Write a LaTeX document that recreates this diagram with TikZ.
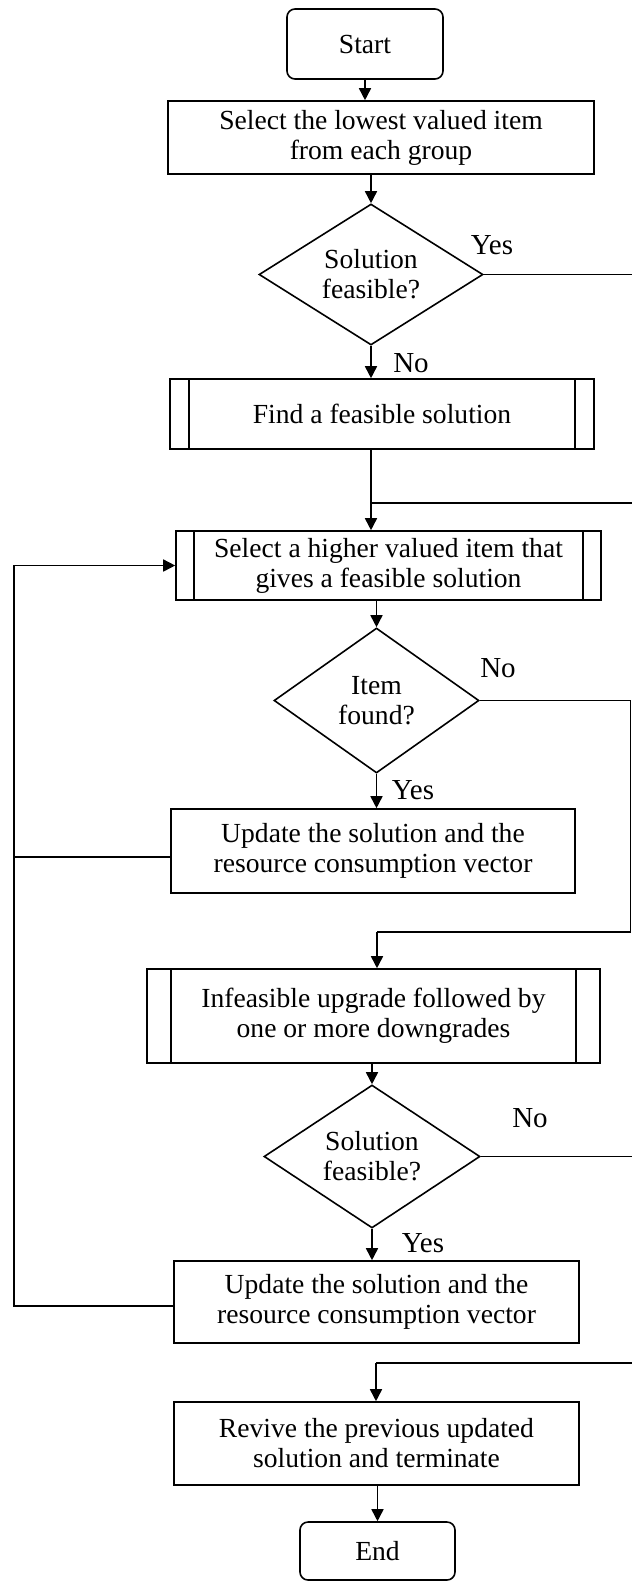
\documentclass[tikz,border=0pt]{standalone}
\usepackage{fontspec}
\setmainfont{Liberation Serif}
\usetikzlibrary{arrows.meta, positioning, shapes.geometric}

\begin{document}
\begin{tikzpicture}[
  x=0.5pt, y=-0.5pt,
  line width=0.8pt,
  font=\fontsize{13.8}{15}\selectfont,
  term/.style 2 args     = {draw, rounded corners=4pt, minimum width=#1, minimum height=#2, align=center},
  block/.style 2 args    = {draw, minimum width=#1, minimum height=#2, align=center, inner sep=2pt},
  subr/.style n args     = {3}{draw, minimum width=#1, minimum height=#2, align=center, inner sep=2pt,
    path picture={
      \draw[line width=0.8pt]
        ([xshift=#3]path picture bounding box.north west) -- ([xshift=#3]path picture bounding box.south west)
        ([xshift=-#3]path picture bounding box.north east) -- ([xshift=-#3]path picture bounding box.south east);
    }},
  decision/.style 2 args = {draw, diamond, aspect=1.5, inner sep=0pt, minimum width=#1, minimum height=#2, align=center},
  lbl/.style   = {font=\fontsize{14.5}{15}\selectfont, inner sep=0pt},
  arrow/.style = {-{Triangle[length=6pt,width=6pt]}}
]
  \useasboundingbox (0,0) rectangle (632,1586);

  % main column
  \node[term={78pt}{35pt}] (start) at (365,44) {Start};
  \node[block={213pt}{36.5pt}] (lowest) at (381,137.5) {Select the lowest valued item\\from each group};
  \node[decision={112pt}{70.5pt}] (feas1) at (371,274.5) {Solution\\feasible?};
  \node[subr={212pt}{35pt}{9.5pt}] (findsol) at (382,414) {Find a feasible solution};
  \node[subr={212.5pt}{34.5pt}{9pt}] (higher) at (388.5,565.5) {Select a higher valued item that\\gives a feasible solution};
  \node[decision={102.5pt}{72.5pt}] (found) at (376.5,700.5) {Item\\found?};
  \node[block={202pt}{42pt}] (update1) at (373,851) {Update the solution and the\\resource consumption vector};
  \node[subr={226.5pt}{47pt}{12pt}] (infeas) at (373.5,1016) {Infeasible upgrade followed by\\one or more downgrades};
  \node[decision={108pt}{71.5pt}] (feas2) at (372,1156.5) {Solution\\feasible?};
  \node[block={202.5pt}{41pt}] (update2) at (376.5,1302) {Update the solution and the\\resource consumption vector};
  \node[block={202.5pt}{41.5pt}] (revive) at (376.5,1443.5) {Revive the previous updated\\solution and terminate};
  \node[term={77.5pt}{29pt}] (stop) at (377.5,1551) {End};

  % branch labels
  \node[lbl] (yes1) at (492,245) {Yes};
  \node[lbl] (no1) at (411,363) {No};
  \node[lbl] (no2) at (498,668) {No};
  \node[lbl] (yes2) at (413,790) {Yes};
  \node[lbl] (no3) at (530,1118) {No};
  \node[lbl] (yes3) at (423,1243) {Yes};

  % helper points for the side lines
  \coordinate (rim1) at (633.5,0);
  \coordinate (rim2) at (630.5,0);
  \coordinate (rail) at (14,0);
  \coordinate (join1) at (371,503);
  \coordinate (join2) at (377,932);
  \coordinate (join3) at (376,1363);

  % connectors
  \draw[arrow] (start.south) -- (start.south |- lowest.north);
  \draw[arrow] (lowest.south -| feas1.north) -- (feas1.north);
  \draw[arrow] (feas1.south) -- (feas1.south |- findsol.north);
  \draw (feas1.east) -- (feas1.east -| rim1) |- (join1);
  \draw[arrow] (findsol.south -| join1) -- (join1 |- higher.north);
  \draw[arrow] (higher.south -| found.north) -- (found.north);
  \draw[arrow] (found.south) -- (found.south |- update1.north);
  \draw (found.east) -- (found.east -| rim2) |- (join2);
  \draw[arrow] (join2) -- (join2 |- infeas.north);
  \draw[arrow] (infeas.south -| feas2.north) -- (feas2.north);
  \draw[arrow] (feas2.south) -- (feas2.south |- update2.north);
  \draw (feas2.east) -- (feas2.east -| rim1) |- (join3);
  \draw[arrow] (join3) -- (join3 |- revive.north);
  \draw[arrow] (revive.south -| stop.north) -- (stop.north);
  \draw ([yshift=-3pt]update1.west) -- ([yshift=-3pt]update1.west -| rail);
  \draw[arrow] ([yshift=-2pt]update2.west) -| (rail |- higher.west) -- (higher.west);
\end{tikzpicture}
\end{document}
